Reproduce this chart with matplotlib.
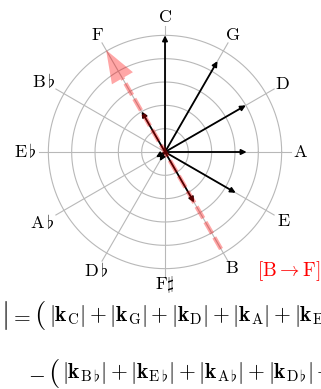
import numpy as np
import matplotlib
matplotlib.use('Agg')
import matplotlib.pyplot as plt

plt.rcParams['mathtext.fontset'] = 'cm'
plt.rcParams['font.family'] = 'serif'
plt.rcParams['font.serif'] = ['DejaVu Serif']

# circle of fifths, clockwise from C at the top
notes = [r'$\mathrm{C}$', r'$\mathrm{G}$', r'$\mathrm{D}$', r'$\mathrm{A}$', r'$\mathrm{E}$', r'$\mathrm{B}$',
         r'$\mathrm{F}\sharp$', r'$\mathrm{D}\,\flat$', r'$\mathrm{A}\,\flat$', r'$\mathrm{E}\,\flat$',
         r'$\mathrm{B}\,\flat$', r'$\mathrm{F}$']
label_r = [5.8, 5.8, 5.8, 5.8, 5.9, 5.75, 5.7, 5.9, 6.1, 6.0, 6.0, 5.8]
# length of each pitch vector (in ring units)
lengths = [5.0, 4.5, 4.0, 3.5, 3.5, 2.5, 0.0, 0.45, 0.45, 0.0, 0.0, 2.0]
rings = [1, 2, 3, 4, 5]

# resulting direction B -> F
res_from = 5   # B
res_to = 11    # F
res_len_from = 4.8
res_len_to = 5.05
res_label = r'$[\mathrm{B}\rightarrow\mathrm{F}]$'

line1 = [r'$|$', r'$=$', r'$($',
         r'$|\mathbf{k}_{\mathrm{C}}| + |\mathbf{k}_{\mathrm{G}}| + |\mathbf{k}_{\mathrm{D}}|'
         r' + |\mathbf{k}_{\mathrm{A}}| + |\mathbf{k}_{\mathrm{E}}| + |\mathbf{k}_{\mathrm{B}}|$']
line2 = [r'$-$', r'$($',
         r'$|\mathbf{k}_{\mathrm{B}\,\flat}| + |\mathbf{k}_{\mathrm{E}\,\flat}| + |\mathbf{k}_{\mathrm{A}\,\flat}|'
         r' + |\mathbf{k}_{\mathrm{D}\,\flat}| + |\mathbf{k}_{\mathrm{F}\sharp}|$']

angles = np.deg2rad(90 - 30 * np.arange(12))

fig = plt.figure(figsize=(3.21, 3.89), dpi=100)
ax = fig.add_axes([0, 0, 1, 1])
unit = 23.33  # pixels per ring
cx, cy = 165, 152
ax.set_xlim(-cx / unit, (321 - cx) / unit)
ax.set_ylim((cy - 389) / unit, cy / unit)
ax.set_aspect('equal')
ax.axis('off')

gray = '#b8b8b8'
t = np.linspace(0, 2 * np.pi, 300)
for r in rings:
    ax.plot(r * np.cos(t), r * np.sin(t), color=gray, lw=0.8, zorder=1)
for a in angles:
    ax.plot([0, 5.4 * np.cos(a)], [0, 5.4 * np.sin(a)], color=gray, lw=0.8, zorder=1)

for lab, a, lr in zip(notes, angles, label_r):
    ax.text(lr * np.cos(a), lr * np.sin(a), lab, fontsize=13, ha='center', va='center')

for L, a in zip(lengths, angles):
    if L <= 0:
        continue
    ax.annotate('', xy=(L * np.cos(a), L * np.sin(a)), xytext=(0, 0),
                arrowprops=dict(arrowstyle='-|>', color='black', lw=1.3,
                                mutation_scale=7.5, shrinkA=0, shrinkB=0), zorder=3)

# pink resultant arrow
a0, a1 = angles[res_from], angles[res_to]
p0 = (res_len_from * np.cos(a0), res_len_from * np.sin(a0))
p1 = (res_len_to * np.cos(a1), res_len_to * np.sin(a1))
head = 1.4
half_w = 0.52
base = (p1[0] - head * np.cos(a1), p1[1] - head * np.sin(a1))
ax.plot([p0[0], base[0]], [p0[1], base[1]], color='red', alpha=0.35, lw=3.2,
        dashes=(3, 1), solid_capstyle='butt', zorder=4)
nx, ny = -np.sin(a1), np.cos(a1)
ax.fill([p1[0], base[0] + half_w * nx, base[0] - half_w * nx],
        [p1[1], base[1] + half_w * ny, base[1] - half_w * ny],
        color='red', alpha=0.35, lw=0, zorder=4)

ax.text(5.3, -5.1, res_label, color='red', fontsize=14, ha='center', va='center')

# formula lines, pieces chained left to right
def chain(pieces, x0, y0, sizes):
    prev = fig.text(x0 / 321, 1 - y0 / 389, pieces[0], fontsize=sizes[0], ha='left', va='center')
    for p, s in zip(pieces[1:], sizes[1:]):
        prev = ax.annotate(p, xy=(1, 0.5), xycoords=prev, xytext=(2, 0), textcoords='offset points',
                           fontsize=s, ha='left', va='center', annotation_clip=False)

chain(line1, 1, 316, [21, 15.5, 21, 15.5])
chain(line2, 28, 374, [15.5, 21, 15.5])

fig.savefig('out.png', dpi=100)
